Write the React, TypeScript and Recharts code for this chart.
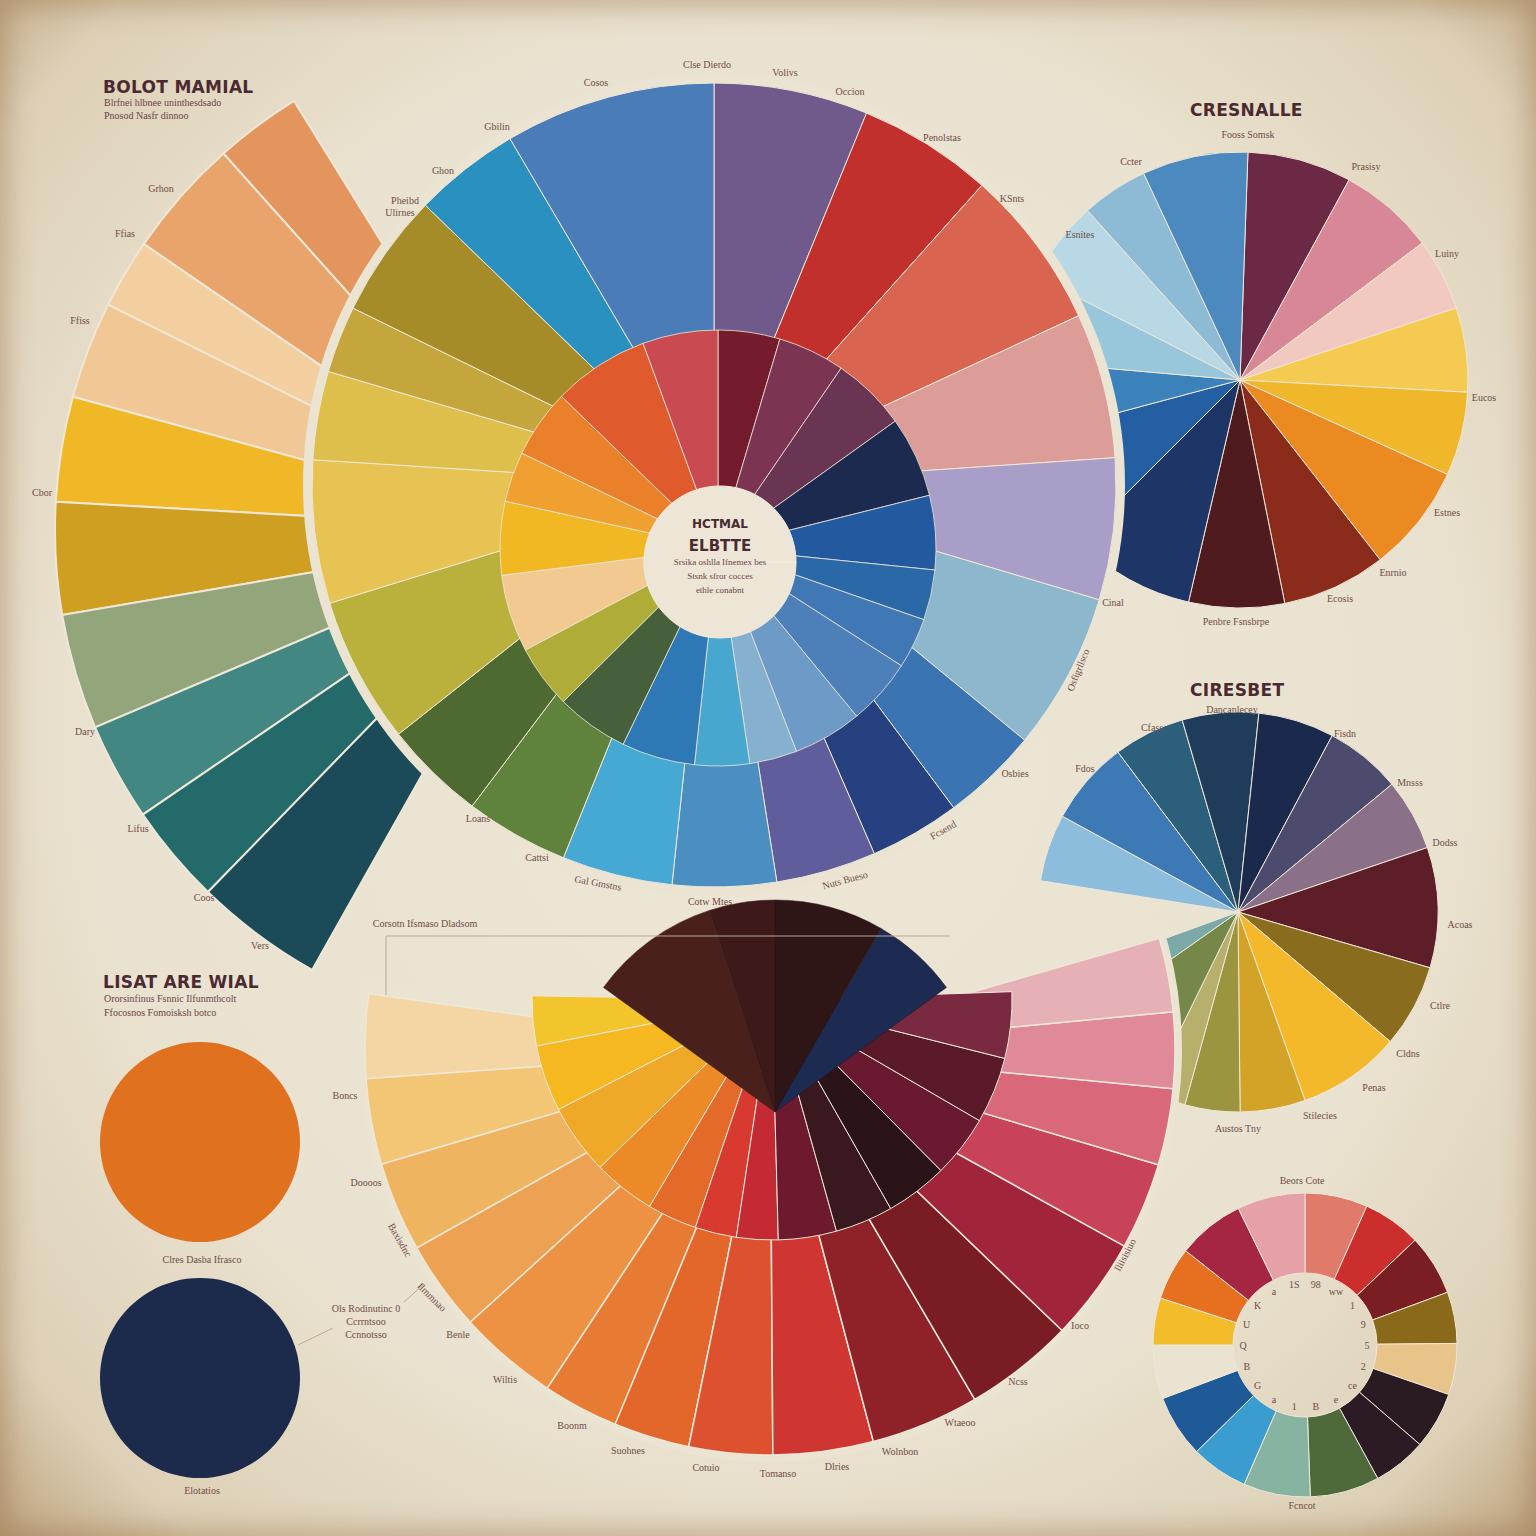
import { PieChart, Pie, Cell } from "recharts";

// ---- left fan (behind the big wheel) ----
const fanNames = ["Grhon", "Ffias", "Ffiss", "Peach", "Cbor", "Mustard", "Dary", "Lifus", "Coos", "Vers"];
const fanValues = [10, 13.7, 8, 11.2, 12.1, 12.9, 13.3, 11.3, 11.5, 14.8];
const fanColors = ["#e4955d", "#e9a46c", "#f3cf9f", "#f1c795", "#f0b826", "#cf9f22", "#93a67b", "#438782", "#256a6a", "#1b4a58"];

// ---- big wheel, outer ring ----
const outerNames = ["Volivs", "Occion", "Penolstas", "KSnts", "Esnites", "Cinal", "Osbies", "Navy", "Nuts Bueso", "Cotw Mtes", "Gal Gmstns", "Cattsi", "Loans", "Khaki", "Light", "Yellow", "Mustard", "Pheibd", "Ghon", "Cosos"];
const outerValues = [22.3, 19.5, 23.3, 21, 20.5, 22.8, 14, 13.1, 14.5, 15, 16, 15, 14.7, 21.2, 20.7, 12.8, 9.7, 18, 15.4, 30.5];
const outerColors = ["#6f5a8b", "#c2302d", "#d9644f", "#dc9c98", "#a99ec7", "#8cb7cd", "#3b74b3", "#27407f", "#5f5d9c", "#4a8ec2", "#46a9d3", "#5f823d", "#4f6a31", "#bab13d", "#e6c352", "#dfbf4b", "#c5a63c", "#a68c29", "#2990c0", "#4a7db7"];

// ---- big wheel, middle ring ----
const midNames = ["Maroon", "Mauve", "Plum", "Navy", "Deep", "Blue", "Blue 2", "Steel", "Light steel", "Light", "Cyan", "Blue 3", "Green", "Olive", "Peach", "Yellow", "Amber", "Orange", "Vermilion", "Rose"];
const midValues = [16.5, 17.9, 20, 21.6, 19.8, 13.4, 13.5, 17.8, 18.4, 12.7, 14.6, 19.6, 19.4, 16.9, 20.7, 19.6, 13.4, 18.3, 25.8, 20.1];
const midColors = ["#741b2d", "#7b3552", "#693552", "#1d2a4f", "#22599f", "#2b68a8", "#3f78b5", "#4d80b8", "#6d9ac6", "#86b0d0", "#48a7cf", "#2f78b6", "#45603a", "#afac38", "#f2c991", "#f2b823", "#f0a030", "#ea8029", "#df5a2c", "#c94a50"];

// ---- top right pie ----
const trNames = ["Prasisy", "Luiny", "Pink", "Eucos", "Estnes", "Enrnio", "Ecosis", "Penbre", "Navy", "Deep", "Blue", "Light", "Pale", "Ccter", "Fooss"];
const trValues = [26.6, 24.5, 18.5, 21.5, 21.4, 27.6, 26.6, 24.4, 32, 30, 20, 22, 21, 17, 27];
const trColors = ["#6b2945", "#d88797", "#f2c9c0", "#f5ca50", "#f1b72a", "#ec8a22", "#8b2b1c", "#4f1b1e", "#1d3667", "#245ea3", "#3b82ba", "#98c6da", "#b8d8e6", "#8dbbd6", "#4b89bf"];

// ---- middle right pie ----
const mrNames = ["Fdos", "Cfass", "Teal", "Dancan", "Fisdn", "Mnsss", "Dodss", "Acoas", "Ctlre", "Cldns", "Penas", "Stilecies", "Austos", "Olive", "Teal 2"];
const mrValues = [19.6, 24.5, 20.7, 22.2, 22.1, 22.2, 20.9, 35, 24.2, 30, 19, 16, 10.8, 28.6, 15.2];
const mrColors = ["#8cbddd", "#3d7ab5", "#2c5f7c", "#1f3d5a", "#1b2a4c", "#4c4a6d", "#8a7189", "#5d1e28", "#8a6c1e", "#f3b92b", "#d2a326", "#9b9540", "#b7b06c", "#76874a", "#7aa9a8"];

// ---- bottom fan ----
const bfNames = ["Boncs", "Doooos", "Baxisdnc", "Ilmmnao", "Benle", "Wiltis", "Boonm", "Suohnes", "Cotuio", "Tomanso", "Dlries", "Wolnbon", "Wtaeoo", "Ncss", "Ioco", "Iliisisiuo"];
const bfValues = [12.1, 12.3, 12.9, 13, 14.4, 10.9, 10.9, 12, 14.4, 15.6, 15.8, 14.9, 12.5, 11, 10.9, 10.6];
const bfColors = ["#f3d6a3", "#f3c675", "#efb460", "#eda152", "#ec9242", "#e87b33", "#e3672b", "#de512e", "#cf3631", "#8e2228", "#7a1c24", "#a0243c", "#c8425a", "#d8687a", "#e08a99", "#e6b1b6"];

const biNames = ["Gold", "Yellow", "Amber", "Orange", "Tangerine", "Red", "Crimson", "Maroon", "Dark", "Darker", "Wine", "Deep wine", "Plum"];
const biValues = [12, 16, 17, 15, 12, 10, 10, 14, 14, 15, 15, 16, 16];
const biColors = ["#f3c52c", "#f5b821", "#f0a828", "#ec8a28", "#e46a2a", "#d83a30", "#c32a33", "#6e1a2e", "#3a1820", "#2a1418", "#6a1a30", "#5a1a2a", "#7a2a40"];

const bdNames = ["Navy", "Dark", "Umber", "Brown"];
const bdValues = [24, 30, 18, 36];
const bdColors = ["#1d2a52", "#2e1617", "#3d1a19", "#4a201d"];

// ---- bottom right donut ----
const donutNames = ["Salmon", "Red", "Oxblood", "Olive", "Sand", "Plum", "Ink", "Moss", "Sage", "Cyan", "Cobalt", "Gap", "Yellow", "Orange", "Crimson", "Pink"];
const donutValues = [24, 22.4, 23.3, 19.7, 19.6, 21.9, 20.5, 26.6, 25.6, 21.9, 23.9, 20.6, 18, 20.3, 25.7, 26];
const donutColors = ["#e07a6a", "#cc2e2e", "#7a1e22", "#8a6a1a", "#e9c48a", "#2a1a22", "#2c1a24", "#4e6a3a", "#86b4a0", "#3a9ccf", "#1f5a98", "#ebe3d2", "#f2bc2a", "#e67020", "#a42642", "#e6a0a8"];
const donutTicks = ["98", "ww", "1", "9", "5", "2", "ce", "e", "B", "1", "a", "G", "B", "Q", "U", "K", "a", "1S"];

const circleNames = ["Clres Dasba Ifrasco", "Elotatios"];
const circleColors = ["#e0711f", "#1c2a4c"];

const BG = "#ebe4d3";
const LINE = "#efe7d7";

const rows = (names: string[], values: number[]) => names.map((name, i) => ({ name, value: values[i] }));

const labels: [string, number, number, number?][] = [
  ["Grhon", 161, 188], ["Ffias", 125, 233], ["Ffiss", 80, 320], ["Cbor", 42, 492], ["Dary", 85, 731],
  ["Lifus", 138, 828], ["Coos", 204, 897], ["Vers", 260, 945],
  ["Cosos", 596, 82], ["Clse Dierdo", 707, 64], ["Volivs", 785, 72], ["Occion", 850, 91], ["Penolstas", 942, 137],
  ["KSnts", 1012, 198], ["Esnites", 1080, 234], ["Gbilin", 497, 126], ["Ghon", 443, 170], ["Pheibd", 405, 200],
  ["Ulirnes", 400, 212], ["Cinal", 1113, 602], ["Osfigrllsco", 1078, 670, -68], ["Osbies", 1015, 773],
  ["Fcsend", 943, 830, -30], ["Nuts Bueso", 845, 880, -15], ["Cotw Mtes", 710, 901], ["Gal Gmstns", 598, 883, 10],
  ["Cattsi", 537, 857], ["Loans", 478, 818],
  ["Fooss Somsk", 1248, 134], ["Ccter", 1131, 161], ["Prasisy", 1366, 166], ["Luiny", 1447, 253], ["Eucos", 1484, 397],
  ["Estnes", 1447, 512], ["Enrnio", 1393, 572], ["Ecosis", 1340, 598], ["Penbre Fsnsbrpe", 1236, 621],
  ["Dancanlecey", 1232, 709], ["Cfass", 1152, 727], ["Fisdn", 1345, 733], ["Fdos", 1085, 768], ["Mnsss", 1410, 782],
  ["Dodss", 1445, 842], ["Acoas", 1460, 924], ["Ctlre", 1440, 1005], ["Cldns", 1408, 1053], ["Penas", 1374, 1087],
  ["Stilecies", 1320, 1115], ["Austos Tny", 1238, 1128],
  ["Corsotn Ifsmaso Dladsom", 425, 923], ["Boncs", 345, 1095], ["Doooos", 366, 1182], ["Baxisdnc", 400, 1240, 60],
  ["Ilmmnao", 432, 1297, 45], ["Benle", 458, 1334], ["Wiltis", 505, 1379], ["Boonm", 572, 1425], ["Suohnes", 628, 1450],
  ["Cotuio", 706, 1467], ["Tomanso", 778, 1473], ["Dlries", 837, 1466], ["Wolnbon", 900, 1451], ["Wtaeoo", 960, 1422],
  ["Ncss", 1018, 1381], ["Ioco", 1080, 1325], ["Iliisisiuo", 1125, 1255, -62],
  ["Clres Dasba Ifrasco", 202, 1259], ["Elotatios", 202, 1490], ["Ols Rodinutinc 0", 366, 1308],
  ["Ccrrntsoo", 366, 1321], ["Ccnnotsso", 366, 1334], ["Beors Cote", 1302, 1180], ["Fcncot", 1302, 1505],
];

const titleStyle: React.CSSProperties = {
  position: "absolute", fontFamily: "'DejaVu Sans', sans-serif", fontWeight: 700, fontSize: 17,
  color: "#4a2a31", letterSpacing: 0.3, whiteSpace: "nowrap",
};
const subStyle: React.CSSProperties = {
  position: "absolute", fontFamily: "'Liberation Serif', serif", fontSize: 10, color: "#6b4348", whiteSpace: "nowrap",
};

function Label({ text, x, y, rot }: { text: string; x: number; y: number; rot?: number }) {
  return (
    <div
      style={{
        position: "absolute", left: x, top: y, transform: `translate(-50%, -50%) rotate(${rot || 0}deg)`,
        fontFamily: "'Liberation Serif', serif", fontSize: 10, color: "#704c48", whiteSpace: "nowrap",
      }}
    >
      {text}
    </div>
  );
}

export default function App() {
  return (
    <div
      style={{
        position: "absolute", left: 0, top: 0, width: 1536, height: 1536, overflow: "hidden",
        background: "radial-gradient(ellipse at 50% 48%, #ede6d6 0%, #eae2d0 62%, #ddd0b6 88%, #bea37f 100%)",
      }}
    >
      <div style={{ position: "absolute", inset: 0, boxShadow: "inset 0 0 28px 6px rgba(150,110,70,0.45)" }} />
      <PieChart width={1536} height={1536} margin={{ top: 0, right: 0, bottom: 0, left: 0 }} style={{ position: "absolute", left: 0, top: 0 }}>
        {/* top right pie sits behind the big wheel */}
        <Pie data={rows(trNames, trValues)} dataKey="value" cx={1240} cy={380} outerRadius={228} startAngle={88} endAngle={-272} stroke={LINE} strokeWidth={1} isAnimationActive={false}>
          {trColors.map((c, i) => <Cell key={i} fill={c} />)}
        </Pie>
        <Pie data={rows(fanNames, fanValues)} dataKey="value" cx={560} cy={530} outerRadius={505} startAngle={121.8} endAngle={240.6} stroke={LINE} strokeWidth={2} isAnimationActive={false}>
          {fanColors.map((c, i) => <Cell key={i} fill={c} />)}
        </Pie>
        <Pie data={rows(mrNames, mrValues)} dataKey="value" cx={1238} cy={912} outerRadius={200} startAngle={171} endAngle={-160} stroke={LINE} strokeWidth={1} isAnimationActive={false}>
          {mrColors.map((c, i) => <Cell key={i} fill={c} />)}
        </Pie>

        {/* bottom fan */}
        <Pie data={[{ name: "edge", value: 1 }]} dataKey="value" cx={770} cy={1050} outerRadius={412} startAngle={170} endAngle={378} stroke="none" fill={BG} isAnimationActive={false} />
        <Pie data={rows(bfNames, bfValues)} dataKey="value" cx={770} cy={1050} outerRadius={405} startAngle={172} endAngle={376} stroke={LINE} strokeWidth={1.5} isAnimationActive={false}>
          {bfColors.map((c, i) => <Cell key={i} fill={c} />)}
        </Pie>
        <Pie data={rows(biNames, biValues)} dataKey="value" cx={772} cy={1000} outerRadius={240} startAngle={179} endAngle={362} stroke={LINE} strokeWidth={1} isAnimationActive={false}>
          {biColors.map((c, i) => <Cell key={i} fill={c} />)}
        </Pie>
        <Pie data={rows(bdNames, bdValues)} dataKey="value" cx={775} cy={1112} outerRadius={212} startAngle={36} endAngle={144} stroke="#2a1416" strokeWidth={0.5} isAnimationActive={false}>
          {bdColors.map((c, i) => <Cell key={i} fill={c} />)}
        </Pie>

        {/* big wheel */}
        <Pie data={[{ name: "edge", value: 1 }]} dataKey="value" cx={714} cy={485} outerRadius={411} stroke="none" fill={BG} isAnimationActive={false} />
        <Pie data={rows(outerNames, outerValues)} dataKey="value" cx={714} cy={485} outerRadius={402} startAngle={90} endAngle={-270} stroke={LINE} strokeWidth={1} isAnimationActive={false}>
          {outerColors.map((c, i) => <Cell key={i} fill={c} />)}
        </Pie>
        <Pie data={rows(midNames, midValues)} dataKey="value" cx={718} cy={548} outerRadius={218} startAngle={90} endAngle={-270} stroke={LINE} strokeWidth={0.8} isAnimationActive={false}>
          {midColors.map((c, i) => <Cell key={i} fill={c} />)}
        </Pie>
        <Pie data={[{ name: "hub", value: 1 }]} dataKey="value" cx={720} cy={562} outerRadius={76} stroke="#f2ece0" strokeWidth={1} fill="#ede6d6" isAnimationActive={false} />

        {/* bottom right donut */}
        <Pie data={rows(donutNames, donutValues)} dataKey="value" cx={1305} cy={1345} outerRadius={152} innerRadius={72} startAngle={90} endAngle={-270} stroke={LINE} strokeWidth={1} isAnimationActive={false}>
          {donutColors.map((c, i) => <Cell key={i} fill={c} />)}
        </Pie>

        {/* solid swatches */}
        <Pie data={[{ name: circleNames[0], value: 1 }]} dataKey="value" cx={200} cy={1142} outerRadius={100} stroke="none" fill={circleColors[0]} isAnimationActive={false} />
        <Pie data={[{ name: circleNames[1], value: 1 }]} dataKey="value" cx={200} cy={1378} outerRadius={100} stroke="none" fill={circleColors[1]} isAnimationActive={false} />
      </PieChart>

      <svg width={1536} height={1536} style={{ position: "absolute", left: 0, top: 0, pointerEvents: "none" }}>
        <polyline points="386,995 386,936 950,936" fill="none" stroke="#b9a995" strokeWidth={1} />
        <line x1={298} y1={1345} x2={333} y2={1328} stroke="#b9a995" strokeWidth={1} />
        <line x1={404} y1={1302} x2={424} y2={1284} stroke="#b9a995" strokeWidth={1} />
      </svg>

      <div style={{ ...titleStyle, left: 103, top: 77 }}>BOLOT MAMIAL</div>
      <div style={{ ...subStyle, left: 104, top: 97 }}>Blrfnei hlbnee uninthesdsado</div>
      <div style={{ ...subStyle, left: 104, top: 110 }}>Pnosod Nasfr dinnoo</div>
      <div style={{ ...titleStyle, left: 1190, top: 100 }}>CRESNALLE</div>
      <div style={{ ...titleStyle, left: 1190, top: 680 }}>CIRESBET</div>
      <div style={{ ...titleStyle, left: 103, top: 972 }}>LISAT ARE WIAL</div>
      <div style={{ ...subStyle, left: 104, top: 993 }}>Ororsinfinus Fsnnic Ilfunmthcolt</div>
      <div style={{ ...subStyle, left: 104, top: 1007 }}>Ffocosnos Fomoisksh botco</div>

      <div style={{ position: "absolute", left: 645, top: 517, width: 150, textAlign: "center", color: "#4a2a31" }}>
        <div style={{ fontFamily: "'DejaVu Sans', sans-serif", fontSize: 12, fontWeight: 600 }}>HCTMAL</div>
        <div style={{ fontFamily: "'DejaVu Sans', sans-serif", fontSize: 15, fontWeight: 600, marginTop: 6 }}>ELBTTE</div>
        <div style={{ fontFamily: "'Liberation Serif', serif", fontSize: 9, marginTop: 2, color: "#6b4348" }}>Srsika oshlla Ifnemex bes</div>
        <div style={{ fontFamily: "'Liberation Serif', serif", fontSize: 9, marginTop: 4, color: "#6b4348" }}>Stsnk sfror cocces</div>
        <div style={{ fontFamily: "'Liberation Serif', serif", fontSize: 9, marginTop: 4, color: "#6b4348" }}>ethle conabnt</div>
      </div>

      {labels.map(([t, x, y, r], i) => <Label key={i} text={t} x={x} y={y} rot={r} />)}
      {donutTicks.map((t, i) => {
        const a = ((80 - i * 20) * Math.PI) / 180;
        return <Label key={"d" + i} text={t} x={1305 + 62 * Math.cos(a)} y={1345 - 62 * Math.sin(a)} />;
      })}
    </div>
  );
}
